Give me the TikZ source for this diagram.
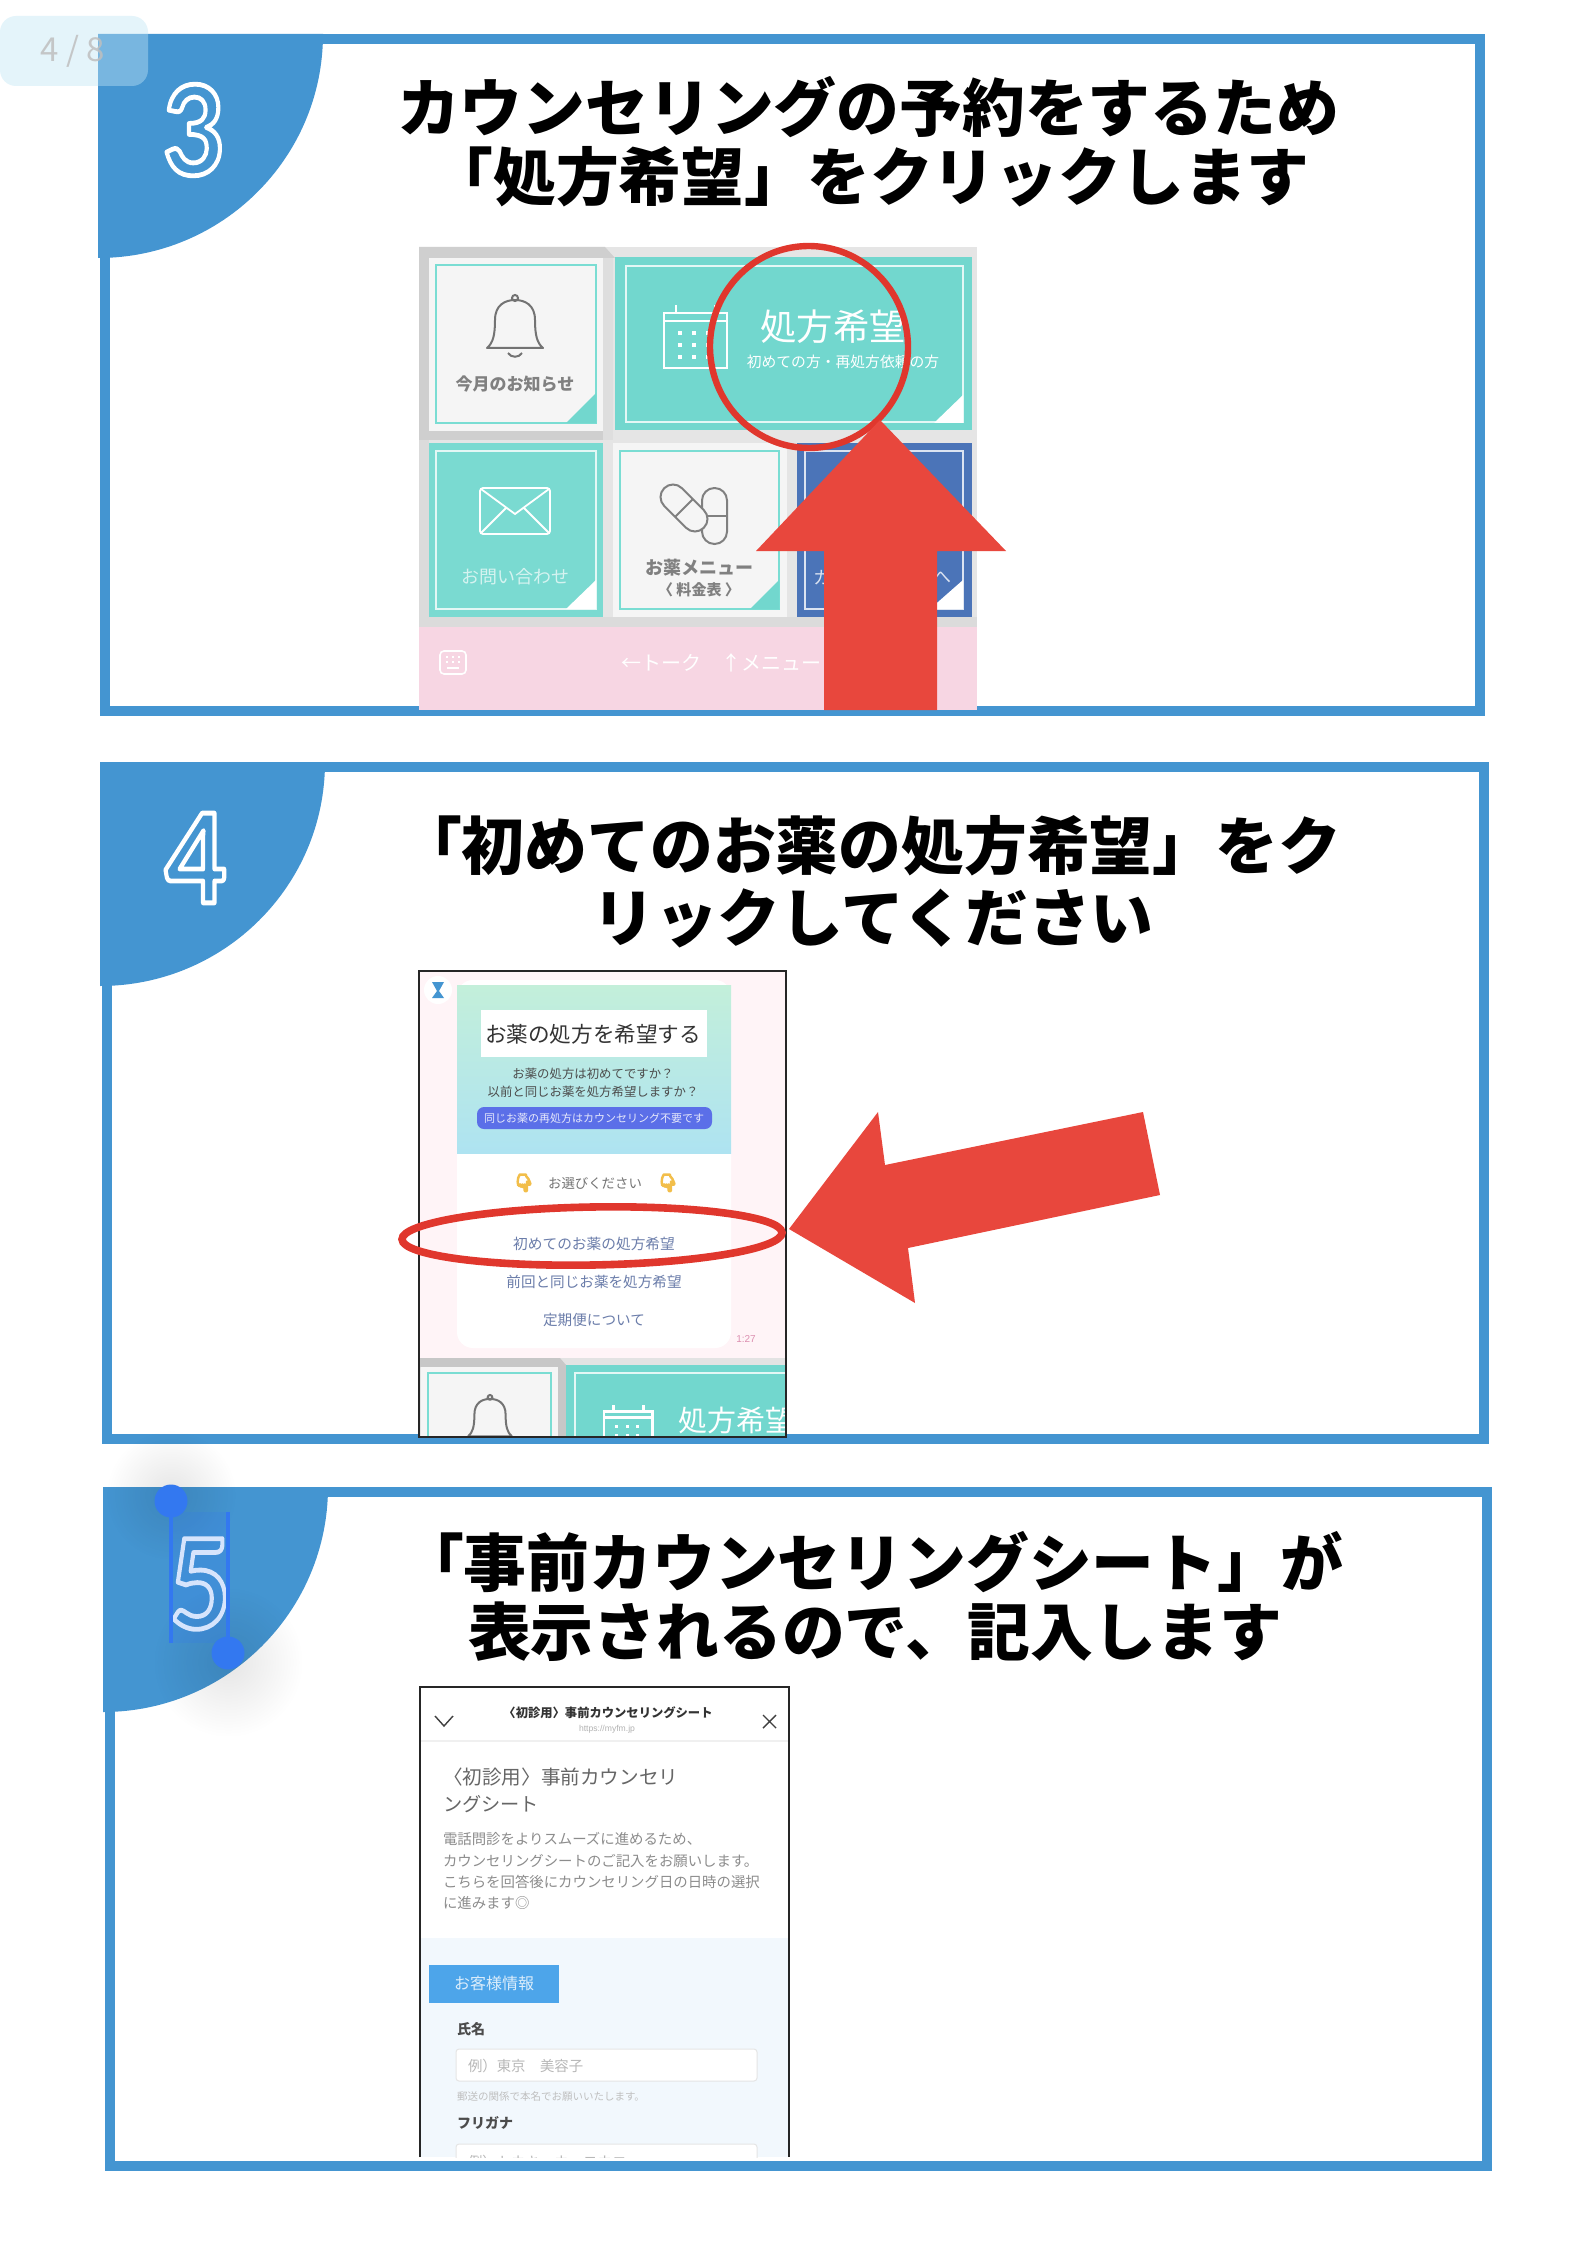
\documentclass[tikz,border=0pt]{standalone}
\usepackage{fontspec}
\usetikzlibrary{fadings,shapes.geometric}
\setmainfont{Noto Sans CJK JP}
\newfontfamily\digitfont{Lato}
\newfontfamily\emojifont{Noto Emoji}
\newfontfamily\latinfont{Liberation Sans}
\definecolor{frameblue}{HTML}{4495D1}
\definecolor{redmark}{HTML}{E8473D}
\definecolor{redring}{HTML}{E0372D}
\definecolor{teal1}{HTML}{72D7CE}
\definecolor{teal2}{HTML}{7ADAD1}
\definecolor{tealline}{HTML}{7ADDD3}
\definecolor{tileblue}{HTML}{4B74B8}
\definecolor{tilewhite}{HTML}{F5F5F5}
\definecolor{pinkbar}{HTML}{F7D6E3}
\definecolor{chatbg}{HTML}{FFF4F7}
\definecolor{linkblue}{HTML}{6B7DAA}
\definecolor{handle}{HTML}{3378F0}
\definecolor{c1}{HTML}{C3EFDA}
\definecolor{c2}{HTML}{AEE3F1}
\definecolor{btnblue}{HTML}{5B6FE8}
\definecolor{emojiy}{HTML}{F2BE4A}
\definecolor{timepink}{HTML}{DC8FB0}
\definecolor{formbg}{HTML}{F2F8FD}
\definecolor{btn2}{HTML}{4DA5EA}
\definecolor{badge}{HTML}{C0E6F5}
\tikzfading[name=softshadow,inner color=transparent!0,outer color=transparent!100]
\newcommand{\outlined}[1]{\special{pdf:code q 1 Tr 2.4 w 1 1 1 RG 1 j 1 J}#1\special{pdf:code Q}}
\newcommand{\solidemoji}[1]{\special{pdf:code q 2 Tr 0.9 w 0.949 0.745 0.29 RG 1 j 1 J}#1\special{pdf:code Q}}
\tikzset{
  x=0.5pt,y=-0.5pt,
  tx/.style={inner sep=0pt,outer sep=0pt,font=\fontsize{#1}{#1}\selectfont},
  txb/.style={inner sep=0pt,outer sep=0pt,font=\fontsize{#1}{#1}\selectfont\bfseries},
  title/.style={inner sep=0pt,outer sep=0pt,font=\fontsize{31.4}{31.4}\selectfont\bfseries,text=black},
  framebox/.style={draw=frameblue,line width=5pt},
  corner/.style={fill=frameblue},
  digit/.style={inner sep=0pt,outer sep=0pt,font=\digitfont\bfseries\fontsize{62}{62}\selectfont,xscale=.86},
  shotline/.style={draw=black!85,line width=1.2pt},
  tileline/.style={line width=.8pt},
  bell/.pic={
    \draw[line width=1pt,draw=black!55,line join=round]
      (-28,53) -- (28,53) .. controls (22,48) and (20,40) .. (20,25)
      .. controls (20,10) and (10,5) .. (0,5)
      .. controls (-10,5) and (-20,10) .. (-20,25)
      .. controls (-20,40) and (-22,48) .. (-28,53) -- cycle;
    \draw[line width=1pt,draw=black!55] (0,3) circle (3);
    \draw[line width=1pt,draw=black!55] (-7,58) .. controls (-4,63) and (4,63) .. (7,58);
  },
  calendar/.pic={
    \draw[white,line width=1.4pt] (0,8) rectangle (63,63);
    \draw[white,line width=1.4pt] (0,16) -- (63,16);
    \draw[white,line width=1.4pt] (12,0) -- (12,8) (51,0) -- (51,8);
    \foreach \cx in {16,30,44}\foreach \cy in {28,40,52}{\fill[white] (\cx-2,\cy-2) rectangle (\cx+2,\cy+2);}
  },
}
\begin{document}
\begin{tikzpicture}
\useasboundingbox (0,0) rectangle (1578,2246);
\fill[white] (0,0) rectangle (1578,2246);

% ---------------- frame 3 ----------------
\draw[framebox] (105,39) rectangle (1480,711);
\fill[corner] (98,34) -- (323,34) .. controls (323,158) and (222,258) .. (98,258) -- cycle;
\node[digit] (dthree) at (194,130) {\outlined{3}};
\node[title] (ta) at (868,107) {カウンセリングの予約をするため};
\node[title] (tb) at (870,177) {「処方希望」をクリックします};

% screenshot 1
\fill[black!10] (419,247) rectangle (977,627);
\fill[black!19] (419,247) -- (605,247) -- (615,258) -- (603,258) -- (603,440) -- (429,440) -- (419,440) -- cycle;
\fill[black!14] (419,440) rectangle (429,620);
\fill[black!13] (603,258) -- (613,258) -- (613,440) -- (603,440) -- cycle;
\fill[black!14] (419,617) rectangle (977,627);
% tile bell
\fill[tilewhite] (429,258) rectangle (603,431);
\draw[tealline,tileline] (436,265) rectangle (596,423);
\fill[teal1] (566,423) -- (596,423) -- (596,393) -- cycle;
\pic at (515,295) {bell};
\node[txb=8.5,text=black!50] (bellt) at (515,384) {今月のお知らせ};
% tile prescribe
\fill[teal1] (615,257) rectangle (972,430);
\draw[white!80!teal1,tileline] (626,266) rectangle (963,422);
\fill[white] (934,423) -- (963,423) -- (963,395) -- cycle;
\pic at (664,305) {calendar};
\node[tx=18.2,text=white] (rx) at (833,327) {処方希望};
\node[tx=7.4,text=white] (rxs) at (843,362) {初めての方・再処方依頼の方};
% tile mail
\fill[teal2] (429,443) rectangle (603,617);
\draw[white!80!teal1,tileline] (436,451) rectangle (596,609);
\fill[white] (566,609) -- (596,609) -- (596,580) -- cycle;
\draw[white,line width=.9pt,rounded corners=1.5pt] (480,488) rectangle (550,534);
\draw[white,line width=.9pt] (481,489) -- (515,514) -- (549,489) (481,533) -- (506,508) (549,533) -- (524,508);
\node[tx=9,text=white!70!teal1] (mailt) at (515,577) {お問い合わせ};
% tile pills
\fill[tilewhite] (613,443) rectangle (787,617);
\draw[tealline,tileline] (620,451) rectangle (779,609);
\fill[teal1] (750,609) -- (779,609) -- (779,580) -- cycle;
\draw[black!50,line width=1pt,rounded corners=6.2pt] (702,488) rectangle (727,544);
\draw[black!50,line width=1pt] (702,516) -- (727,516);
\begin{scope}[rotate around={45:(684,508)}]
\draw[black!50,line width=1pt,fill=tilewhite,rounded corners=6.2pt] (671.5,480) rectangle (696.5,536);
\draw[black!50,line width=1pt] (671.5,508) -- (696.5,508);
\end{scope}
\node[txb=9,text=black!50] (pillt) at (699,568) {お薬メニュー};
\node[txb=7.5,text=black!50] (pills) at (699,590) {〈 料金表 〉};
% tile blue
\fill[tileblue] (797,443) rectangle (972,617);
\draw[white!80!tileblue,tileline] (805,451) rectangle (963,609);
\fill[white] (930,609) -- (963,609) -- (963,580) -- cycle;
\node[tx=9,text=white!80!tileblue] (bl) at (822,578) {カ};
\node[tx=9,text=white!80!tileblue] (br) at (942,578) {へ};
% pink bar
\fill[pinkbar] (419,627) rectangle (977,710);
\draw[white,line width=.8pt,rounded corners=2pt] (440,651) rectangle (466,674);
\foreach \cx in {447,453,459}\foreach \cy in {657,662}{\fill[white] (\cx-1,\cy-1) rectangle (\cx+1,\cy+1);}
\draw[white,line width=.7pt] (447,668) -- (459,668);
\node[tx=10,anchor=west,text=white] (barT) at (621,663) {←トーク　↑メニュー};
% ring + arrow
\draw[redring,line width=3.2pt,rotate around={4:(809,347)}] (809,347) ellipse[x radius=99,y radius=101];
\fill[redmark] (880,420) -- (1006,551) -- (937,551) -- (937,710) -- (824,710) -- (824,551) -- (756,551) -- cycle;

% ---------------- frame 4 ----------------
\draw[framebox] (107,767) rectangle (1484,1439);
\fill[corner] (100,762) -- (325,762) .. controls (325,886) and (224,986) .. (100,986) -- cycle;
\node[digit] (dfour) at (196,858) {\outlined{4}};
\node[title] (tc) at (870,846) {「初めてのお薬の処方希望」をク};
\node[title] (td) at (873,918) {リックしてください};

% screenshot 2
\fill[chatbg] (419,971) rectangle (786,1437);
\fill[white,rounded corners=8pt] (457,980) rectangle (731,1348);
\shade[top color=c1,middle color=c1,bottom color=c2] (457,985) rectangle (731,1153);
\fill[white] (481,1010) rectangle (707,1057);
\node[tx=10.8,text=black!80] (m1) at (593,1034) {お薬の処方を希望する};
\node[tx=6.2,text=black!70] (m2) at (593,1074) {お薬の処方は初めてですか？};
\node[tx=6.2,text=black!70] (m3) at (593,1092) {以前と同じお薬を処方希望しますか？};
\fill[btnblue,rounded corners=3.5pt] (477,1107) rectangle (712,1129);
\node[tx=5.5,text=white!85!btnblue] (m4) at (594,1118) {同じお薬の再処方はカウンセリング不要です};
\node[tx=6.7,text=black!55] (m5) at (595,1183) {お選びください};
\node[inner sep=0pt,text=emojiy,font=\emojifont\fontsize{8.5}{8.5}\selectfont] (e1) at (524,1183) {\solidemoji{👇}};
\node[inner sep=0pt,text=emojiy,font=\emojifont\fontsize{8.5}{8.5}\selectfont] (e2) at (668,1183) {\solidemoji{👇}};
\node[tx=7.35,text=linkblue] (m6) at (594,1244) {初めてのお薬の処方希望};
\node[tx=7.3,text=linkblue] (m7) at (594,1282) {前回と同じお薬を処方希望};
\node[tx=7.3,text=linkblue] (m8) at (594,1320) {定期便について};
\node[inner sep=0pt,text=timepink,font=\latinfont\fontsize{5}{5}\selectfont] (m9) at (746,1339) {1:27};
% small logo
\fill[white] (438,990) circle (14);
\fill[frameblue] (432,982) -- (444,982) -- (439,991) -- (444,998) -- (432,998) -- (437,991) -- cycle;
\begin{scope}
\clip (419,971) rectangle (786,1437);
\fill[black!11] (419,1358) rectangle (786,1437);
\fill[black!22] (419,1358) -- (560,1358) -- (566,1365) -- (566,1437) -- (558,1437) -- (558,1367) -- (419,1367) -- cycle;
\fill[tilewhite] (421,1367) rectangle (558,1437);
\draw[tealline,tileline] (428,1373) rectangle (551,1450);
\pic[scale=.78] at (490,1395) {bell};
\fill[teal1] (566,1365) rectangle (786,1437);
\draw[white!80!teal1,tileline] (575,1373) rectangle (800,1450);
\pic[scale=.77] at (604,1405) {calendar};
\node[tx=14.5,anchor=west,text=white] (rxb) at (678,1420) {処方希望};
\end{scope}
\draw[shotline] (419,971) rectangle (786,1437);
\draw[redring,line width=3.8pt,rotate around={1:(592,1236)}] (592,1236) ellipse[x radius=190,y radius=29];
\fill[redmark] (789,1229) -- (878,1112) -- (885,1165) -- (1143,1112) -- (1160,1195) -- (908,1248) -- (915,1303) -- cycle;

% ---------------- frame 5 ----------------
\draw[framebox] (110,1492) rectangle (1487,2166);
\fill[corner] (103,1487) -- (328,1487) .. controls (328,1611) and (227,1712) .. (103,1712) -- cycle;
\node[title] (te) at (872,1562) {「事前カウンセリングシート」が};
\node[title] (tf) at (875,1632) {表示されるので、記入します};

% screenshot 3
\fill[white] (420,1687) rectangle (789,2157);
\begin{scope}
\clip (420,1687) rectangle (789,2157);
\draw[black!6,line width=.6pt] (420,1741) -- (789,1741);
\node[txb=6.15,text=black!80] (s1) at (608,1713) {〈初診用〉事前カウンセリングシート};
\node[inner sep=0pt,text=black!30,font=\latinfont\fontsize{4.3}{4.3}\selectfont] (s2) at (607,1729) {https://myfm.jp};
\coordinate (cl) at (435,1716);
\coordinate (cm) at (444,1726);
\coordinate (cr) at (453,1716);
\draw[black!75,line width=.7pt] (cl) -- (cm) -- (cr);
\coordinate (xa) at (763,1715);
\coordinate (xb) at (776,1728);
\coordinate (xc) at (763,1728);
\coordinate (xd) at (776,1715);
\draw[black!75,line width=.7pt] (xa) -- (xb) (xc) -- (xd);
\node[tx=9.8,anchor=west,text=black!60] (s3) at (443,1777) {〈初診用〉事前カウンセリ};
\node[tx=9.6,anchor=west,text=black!60] (s4) at (443,1804) {ングシート};
\node[tx=7.2,anchor=west,text=black!45] (s5) at (443,1839) {電話問診をよりスムーズに進めるため、};
\node[tx=7.2,anchor=west,text=black!45] (s6) at (443,1861) {カウンセリングシートのご記入をお願いします。};
\node[tx=7.2,anchor=west,text=black!45] (s7) at (443,1882) {こちらを回答後にカウンセリング日の日時の選択};
\node[tx=7.2,anchor=west,text=black!45] (s8) at (443,1903) {に進みます◎};
\fill[formbg] (420,1938) rectangle (789,2157);
\fill[btn2] (429,1965) rectangle (559,2003);
\node[tx=8,text=white!80!btn2] (s9) at (494,1983) {お客様情報};
\node[txb=7,anchor=west,text=black!70] (s10) at (457,2029) {氏名};
\draw[black!10,fill=white,line width=.5pt,rounded corners=1.5pt] (456,2049) rectangle (757,2081);
\node[tx=7.2,anchor=west,text=black!28] (s11) at (468,2066) {例）東京　美容子};
\node[tx=5.25,anchor=west,text=black!25] (s12) at (457,2096) {郵送の関係で本名でお願いいたします。};
\node[txb=7,anchor=west,text=black!70] (s13) at (457,2123) {フリガナ};
\draw[black!10,fill=white,line width=.5pt,rounded corners=1.5pt] (456,2144) rectangle (757,2176);
\node[tx=7.2,anchor=west,text=black!28] (s14) at (468,2162) {例）トウキョウ　ヨウコ};
\end{scope}
\draw[shotline] (420,2157) -- (420,1687) -- (789,1687) -- (789,2157);

% selected digit 5 with handles
\fill[black,path fading=softshadow,fill opacity=.10] (171,1495) circle (65);
\fill[black,path fading=softshadow,fill opacity=.10] (228,1662) circle (75);
\node[digit] (dfive) at (200,1584) {\outlined{5}};
\fill[handle,fill opacity=.2] (171,1512) rectangle (228,1643);
\draw[handle,line width=2pt] (171,1501) -- (171,1643) (228,1512) -- (228,1653);
\fill[handle] (171,1501) circle (16.5);
\fill[handle] (228,1653) circle (16.5);

% page badge
\fill[badge,fill opacity=.42,rounded corners=8pt] (0,16) rectangle (148,86);
\node[inner sep=0pt,text=black!25,text opacity=.85,font=\fontsize{16.5}{16.5}\selectfont] (page) at (73,51) {4 / 8};
\end{tikzpicture}
\end{document}
